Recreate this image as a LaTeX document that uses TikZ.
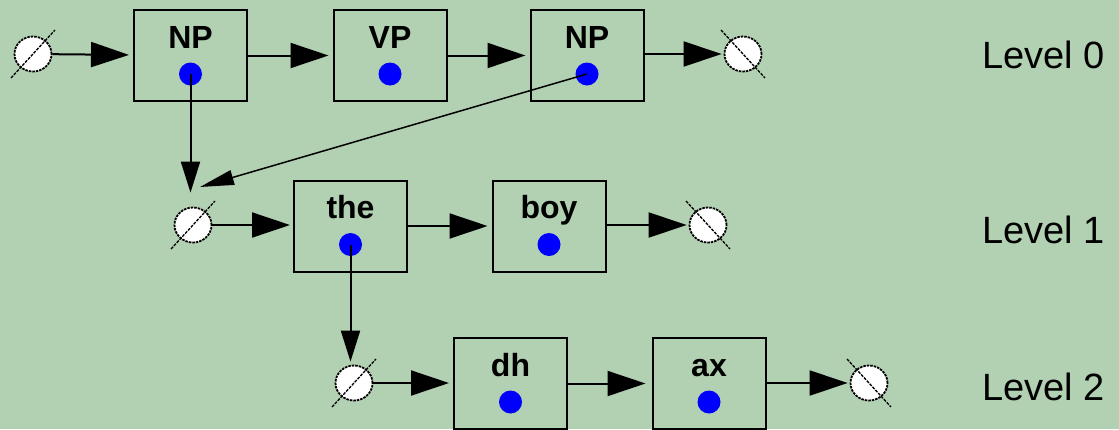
\documentclass[tikz,border=0pt]{standalone}
\usepackage{fontspec}
\setmainfont{Liberation Sans}
\usetikzlibrary{arrows.meta,shapes.geometric}
\definecolor{bg}{RGB}{178,208,178}
\tikzset{
  wbox/.style={draw, line width=2pt, minimum width=113pt, minimum height=91pt, inner sep=0pt},
  lbl/.style={anchor=base, inner sep=0pt, font=\fontsize{32}{32}\selectfont\bfseries},
  bdot/.style={circle, fill=blue, minimum size=23pt, inner sep=0pt},
  nullc/.style={ellipse, draw, fill=white, line width=1.8pt, dash pattern=on 2.5pt off 1pt, minimum width=37pt, minimum height=35pt, inner sep=0pt},
  slash/.style={line width=1.3pt, dash pattern=on 3pt off 1.2pt},
  hconn/.style={line width=2pt, -{Triangle[length=38pt,width=25pt]}},
  vconn/.style={line width=2pt, -{Triangle[length=31pt,width=19pt]}},
  dconn/.style={line width=1.5pt, -{Triangle[length=34pt,width=15pt]}},
  lvl/.style={anchor=base west, inner sep=0pt, font=\fontsize{38}{38}\selectfont},
}
\newcommand\nslashA[1]{\draw[slash] ([shift={(-22pt,-24pt)}]#1.center) -- ([shift={(22pt,24pt)}]#1.center);}
\newcommand\nslashB[1]{\draw[slash] ([shift={(-22pt,24pt)}]#1.center) -- ([shift={(22pt,-24pt)}]#1.center);}
\begin{document}
\begin{tikzpicture}[x=1pt,y=-1pt]
\fill[bg] (0,0) rectangle (1119,429);
\useasboundingbox (0,0) rectangle (1119,429);

% Level 0
\node[wbox] (np1) at (190.5,55.5) {};
\node[wbox] (vp)  at (390,55.5) {};
\node[wbox] (np2) at (587,55.5) {};
\node[lbl] at ([yshift=-39pt]np1.north) {NP};
\node[lbl] at ([yshift=-39pt]vp.north) {VP};
\node[lbl] at ([yshift=-39pt]np2.north) {NP};
\node[bdot] (np1d) at ([yshift=-65pt]np1.north) {};
\node[bdot] (vpd)  at ([yshift=-65pt]vp.north) {};
\node[bdot] (np2d) at ([yshift=-65pt]np2.north) {};
\node[nullc] (n0s) at (33,54) {};
\node[nullc] (n0e) at (743,54) {};

% Level 1
\node[wbox] (the) at (350.5,226) {};
\node[wbox] (boy) at (549,226) {};
\node[lbl] at ([yshift=-39pt]the.north) {the};
\node[lbl] at ([yshift=-39pt]boy.north) {boy};
\node[bdot] (thed) at ([yshift=-65pt]the.north) {};
\node[bdot] (boyd) at ([yshift=-65pt]boy.north) {};
\node[nullc] (n1s) at (193,225) {};
\node[nullc] (n1e) at (708,225) {};

% Level 2
\node[wbox] (dh) at (510.5,383.5) {};
\node[wbox] (ax) at (709,383.5) {};
\node[lbl] at ([yshift=-39pt]dh.north) {dh};
\node[lbl] at ([yshift=-39pt]ax.north) {ax};
\node[bdot] (dhd) at ([yshift=-65pt]dh.north) {};
\node[bdot] (axd) at ([yshift=-65pt]ax.north) {};
\node[nullc] (n2s) at (354,383) {};
\node[nullc] (n2e) at (869,383) {};

% horizontal connectors
\draw[hconn, shorten >=4pt] (n0s) -- (np1);
\draw[hconn, shorten >=4pt] (np1) -- (vp);
\draw[hconn, shorten >=4pt] (vp) -- (np2);
\draw[hconn, shorten >=2pt] (np2.east |- n0e) -- (n0e);
\draw[hconn, shorten >=3pt] (n1s) -- (n1s -| the.west);
\draw[hconn, shorten >=4pt] (the) -- (boy);
\draw[hconn, shorten >=2pt] (boy.east |- n1e) -- (n1e);
\draw[hconn, shorten >=4pt] (n2s) -- (n2s -| dh.west);
\draw[hconn, shorten >=6pt] (dh) -- (ax);
\draw[hconn, shorten >=2pt] (ax.east |- n2e) -- (n2e);

% vertical / diagonal connectors
\coordinate (diagend) at (200,187);
\draw[vconn, shorten >=14pt] (np1d.center) -- (np1d.center |- n1s.north);
\draw[vconn, shorten >=3pt] (thed.center) -- (thed.center |- n2s.north);
\draw[dconn] (np2d.center) -- (diagend);

% null slashes
\nslashA{n0s}
\nslashA{n1s}
\nslashA{n2s}
\nslashB{n0e}
\nslashB{n1e}
\nslashB{n2e}

% level labels
\node[lvl] (l0) at (982,68) {Level 0};
\node[lvl] (l1) at (982,243) {Level 1};
\node[lvl] (l2) at (982,400) {Level 2};
\end{tikzpicture}
\end{document}
